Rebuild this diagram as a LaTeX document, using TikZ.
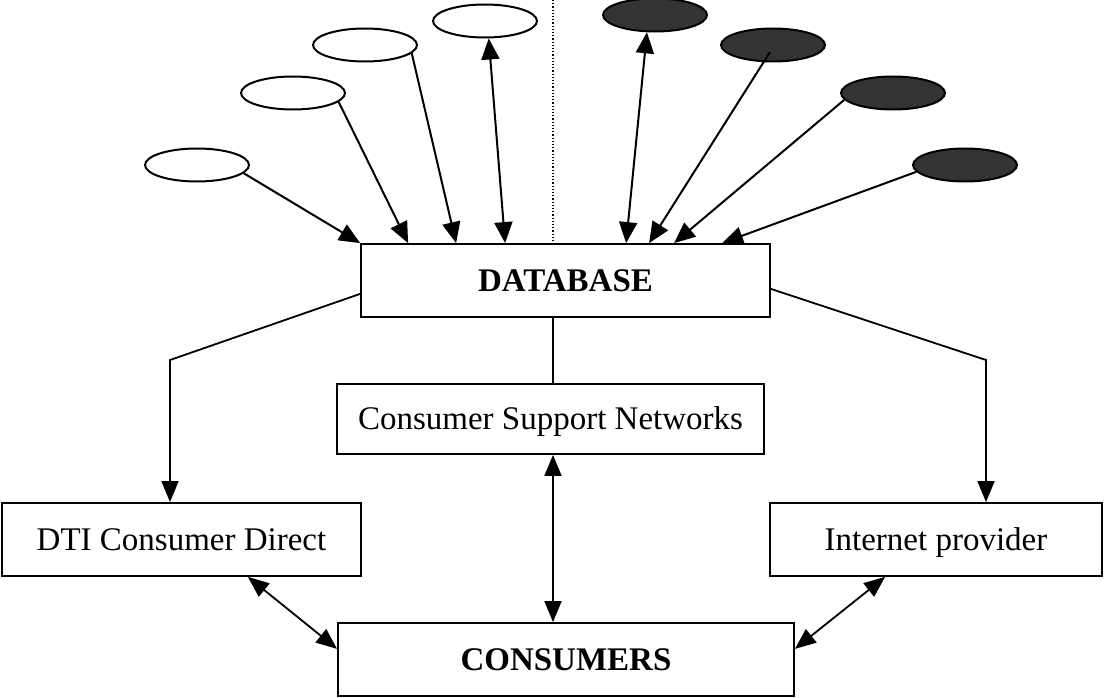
\documentclass[tikz,border=0pt]{standalone}
\usepackage{fontspec}
\setmainfont{Liberation Serif}
\usetikzlibrary{arrows.meta,calc,shapes.geometric}
\begin{document}
\begin{tikzpicture}[x=1pt,y=-1pt,
  box/.style={draw,line width=1.8pt,inner sep=0pt,text height=21.5pt,text depth=0pt,font=\fontsize{33}{36}\selectfont},
  src/.style={ellipse,draw,line width=2pt,minimum width=104pt,minimum height=33pt,inner sep=0pt},
  srcdark/.style={src,fill=black!80},
  feed/.style={line width=2pt,-{Triangle[length=21pt,width=18pt]}},
  feedboth/.style={line width=2pt,{Triangle[length=21pt,width=18pt]}-{Triangle[length=21pt,width=18pt]}},
  link/.style={line width=1.8pt,-{Triangle[length=21pt,width=17pt]}},
  linkboth/.style={line width=1.8pt,{Triangle[length=21pt,width=17pt]}-{Triangle[length=21pt,width=17pt]}}]
\useasboundingbox (0,0) rectangle (1104,698);

% central boxes
\node[box,minimum width=409pt,minimum height=73pt] (db) at (565.5,280.5) {\textbf{DATABASE}};
\node[box,minimum width=427pt,minimum height=70pt] (csn) at (550.5,419) {Consumer Support Networks};
\node[box,minimum width=359pt,minimum height=73pt] (dti) at (181.5,539.5) {DTI Consumer Direct};
\node[box,minimum width=332pt,minimum height=73pt] (inet) at (936,539.5) {Internet provider};
\node[box,minimum width=456pt,minimum height=73pt] (cons) at (566,659.5) {\textbf{CONSUMERS}};

% source ellipses
\node[src] (e1) at (197,165) {};
\node[src] (e2) at (293,93) {};
\node[src] (e3) at (365,45) {};
\node[src] (e4) at (485,21) {};
\node[srcdark] (d1) at (655,15) {};
\node[srcdark] (d2) at (773,45) {};
\node[srcdark] (d3) at (893,93) {};
\node[srcdark] (d4) at (965,165) {};

% dividing line
\coordinate (divtop) at (553,0);
\draw[dotted,line width=1.2pt] (divtop) -- (divtop |- db.north);

% feeds into the database
\draw[feed] (e1.-10) -- (db.north west);
\draw[feed] (e2.-11) -- ($(db.north west)+(48,0)$);
\draw[feed] (e3.-10) -- ($(db.north west)+(96,0)$);
\draw[feedboth] (e4.-78) -- ($(db.north west)+(145,0)$);
\draw[feedboth] (d1.-115) -- ($(db.north west)+(266,0)$);
\draw[feed] ($(d2.center)+(-3,7)$) -- ($(db.north west)+(289,0)$);
\draw[feed] (d3.-172) -- ($(db.north west)+(314,0)$);
\draw[feed] (d4.-172) -- ($(db.north west)+(362,0)$);

% database outputs
\coordinate (bl) at (170,360);
\coordinate (br) at (986,360);
\draw[link] ($(db.south west)+(0,-24)$) -- (bl) -- (bl |- dti.north);
\draw[link] ($(db.south east)+(0,-29)$) -- (br) -- (br |- inet.north);
\draw[line width=1.8pt] (db.south -| divtop) -- (csn.north -| divtop);

% links to consumers
\draw[linkboth] (csn.south -| divtop) -- (cons.north -| divtop);
\draw[linkboth] ($(dti.south east)+(-114,0)$) -- ($(cons.south west)+(0,-48)$);
\draw[linkboth] ($(inet.south west)+(116,0)$) -- ($(cons.south east)+(0,-48)$);
\end{tikzpicture}
\end{document}
